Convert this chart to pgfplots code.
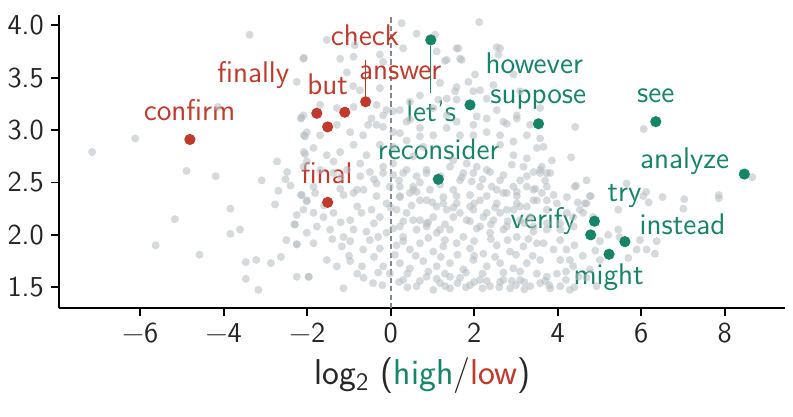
\documentclass[border=0pt]{standalone}
\usepackage{fontspec}
\usepackage{pgfplots}
\pgfplotsset{compat=1.18}
\renewcommand{\familydefault}{\sfdefault}
\definecolor{hred}{RGB}{192,57,43}
\definecolor{hgreen}{RGB}{22,132,103}
\definecolor{ptgray}{RGB}{180,187,191}
\definecolor{dashgray}{RGB}{128,136,146}

% background words: log2 ratio vs y
\pgfplotstableread{
x y
-7.15 2.79
-6.12 2.92
-4.89 2.61
-4.19 2.56
-3.09 2.52
-2.72 2.70
-2.48 2.60
-2.52 2.53
-2.40 2.47
-2.69 2.42
-2.15 2.38
-2.77 2.29
-3.84 2.25
-2.25 2.19
-5.17 2.15
-3.61 2.05
-3.84 2.01
-2.31 2.10
-2.50 1.95
-2.25 1.91
-5.63 1.90
-4.58 1.81
-3.47 1.74
-3.22 1.76
-2.87 1.73
-2.63 1.79
-3.47 1.58
-2.25 1.60
-3.17 1.475
-3.38 3.91
-2.25 3.46
-2.08 3.69
-2.14 3.12
-2.08 2.95
-2.08 2.79
-4.14 3.22
4.42 3.03
3.66 2.84
3.86 2.71
4.32 2.74
6.06 3.01
3.82 2.59
4.44 2.47
4.79 2.37
4.69 2.30
4.48 2.31
5.65 2.49
6.12 2.41
6.51 2.36
6.18 2.31
7.03 2.34
7.01 2.25
7.86 2.38
7.86 2.35
8.66 2.55
5.45 2.24
4.61 2.21
4.37 2.17
5.45 2.05
5.48 1.98
5.21 2.00
5.97 1.95
6.13 1.86
6.33 1.82
6.37 1.94
5.89 1.86
5.69 1.78
5.01 1.94
5.01 1.76
4.77 1.67
4.06 1.76
4.29 1.76
3.98 1.63
3.74 1.60
4.37 1.70
4.69 1.59
4.93 1.51
4.06 1.51
4.29 1.475
3.82 1.49
3.62 2.65
3.70 2.52
3.62 2.40
3.74 2.33
4.06 2.11
3.74 2.05
3.66 1.92
4.06 1.95
4.21 1.86
3.90 1.86
0.26 4.02
2.12 4.03
0.62 3.92
1.06 3.91
1.62 3.78
2.54 3.79
2.58 3.72
1.70 3.67
1.30 3.66
2.02 3.53
1.86 3.46
1.54 3.37
1.18 3.45
2.14 3.38
1.14 3.29
1.58 3.29
2.54 3.19
2.06 3.13
3.02 3.11
2.78 3.06
3.18 2.65
2.90 2.67
3.42 2.60
3.58 2.59
3.74 2.59
2.38 2.60
2.06 2.65
1.82 2.68
1.50 2.71
1.74 2.59
1.94 2.51
2.42 2.46
2.78 2.40
3.02 2.41
3.26 2.46
3.46 2.44
3.74 2.46
3.90 2.38
4.22 2.36
4.41 2.46
4.69 2.52
4.77 2.37
6.05 2.37
4.65 2.30
4.53 2.24
4.85 2.17
-0.10 3.19
0.22 3.19
0.46 3.10
-0.18 3.03
0.22 2.97
0.38 2.90
0.70 2.94
0.06 2.84
0.78 2.84
0.54 2.75
0.06 2.68
0.86 2.62
0.30 2.59
-0.18 2.59
-0.02 2.46
0.54 2.46
0.94 2.43
0.22 2.36
1.26 2.36
0.70 2.33
1.58 2.30
1.10 2.27
1.90 2.27
2.14 2.33
2.30 2.21
2.54 2.30
2.78 2.24
3.02 2.30
3.26 2.27
3.50 2.33
3.74 2.24
3.98 2.30
4.22 2.21
1.50 2.17
1.82 2.14
2.14 2.08
2.46 2.14
2.78 2.08
3.10 2.14
3.42 2.08
3.74 2.11
4.06 2.05
4.38 2.08
0.54 2.14
0.86 2.11
1.18 2.05
0.22 2.08
-0.10 2.02
1.58 3.78
-2.09 3.68
-1.53 3.86
-1.21 3.68
-0.89 3.70
-0.26 3.72
0.30 3.78
1.10 3.75
1.34 3.67
1.66 3.68
1.58 3.41
1.34 3.30
1.98 3.37
2.30 3.30
2.46 3.43
2.62 3.78
2.94 3.53
3.10 3.37
3.58 3.21
-2.09 3.14
-1.69 3.24
-1.29 3.21
-0.89 3.22
-0.34 3.24
0.06 3.18
0.46 3.27
0.70 3.33
1.02 3.21
1.34 3.14
1.58 3.08
1.98 3.05
2.30 3.11
2.70 3.08
3.02 3.14
3.34 3.05
-2.01 2.98
-1.69 2.95
-1.29 3.05
-0.97 2.98
-0.66 2.95
-0.34 3.05
0.06 2.98
0.38 3.08
0.70 3.02
1.02 2.95
1.34 3.02
1.66 2.95
1.98 2.95
2.30 2.98
2.62 2.95
2.94 2.89
3.26 2.95
3.58 2.92
-1.85 2.83
-1.53 2.76
-1.21 2.79
-0.89 2.86
-0.58 2.76
-0.26 2.86
2.62 2.86
2.94 2.76
3.26 2.73
3.50 2.83
-2.01 2.70
-1.37 2.70
-0.73 2.68
-0.54 3.05
-0.46 3.11
-0.18 3.14
-1.05 3.55
-0.86 3.81
-0.18 3.65
-0.26 3.40
-0.74 3.38
-0.90 3.42
-2.15 3.11
-2.05 2.94
-2.05 2.77
-2.13 2.38
-2.01 2.32
-2.29 2.10
-2.25 1.91
-1.96 1.60
-2.09 2.65
-1.69 2.62
-1.37 2.59
-1.05 2.62
-0.73 2.56
-0.50 2.60
-0.18 2.65
0.06 2.57
0.38 2.62
0.62 2.56
0.86 2.59
1.42 2.65
1.66 2.52
1.98 2.59
2.30 2.62
2.62 2.52
2.94 2.46
3.26 2.56
3.58 2.62
-1.85 2.46
-1.21 2.44
-0.81 2.43
-0.34 2.49
0.22 2.46
0.54 2.43
1.18 2.48
1.50 2.43
2.14 2.46
2.54 2.43
3.42 2.43
-2.01 2.33
-1.81 2.40
-1.13 2.38
-0.89 2.40
-0.65 2.43
-0.34 2.37
-0.10 2.30
0.22 2.37
0.46 2.40
0.62 2.41
0.86 2.33
1.26 2.30
1.58 2.37
1.90 2.38
2.30 2.37
2.70 2.40
3.02 2.37
3.42 2.33
-2.09 2.24
-1.85 2.21
-1.61 2.17
-1.37 2.21
-0.97 2.14
-0.70 2.21
-0.46 2.24
-0.26 2.17
0.14 2.24
0.38 2.21
0.70 2.14
1.02 2.17
1.34 2.24
1.66 2.21
1.98 2.24
2.22 2.17
2.62 2.21
2.94 2.24
3.34 2.17
-2.01 2.02
-1.77 2.08
-1.45 2.05
-1.13 1.98
-0.89 2.05
-0.58 2.03
-0.30 1.98
0.06 2.06
0.30 1.98
0.62 2.05
0.86 2.08
1.10 2.02
1.42 2.05
1.74 1.98
2.06 2.06
2.38 2.02
2.70 2.05
3.02 1.98
3.42 2.03
-1.85 1.92
-1.17 1.89
-0.97 1.94
-0.66 1.86
-0.26 1.87
0.14 1.90
0.46 1.86
0.70 1.92
1.02 1.84
1.26 1.89
1.58 1.92
1.90 1.87
2.22 1.82
2.54 1.90
2.86 1.84
3.18 1.89
3.50 1.92
-1.53 1.76
-1.29 1.70
-0.97 1.75
-0.69 1.70
-0.18 1.70
0.22 1.73
0.46 1.68
0.78 1.75
1.10 1.70
1.42 1.73
1.74 1.67
1.98 1.76
2.30 1.70
2.62 1.73
2.94 1.68
3.26 1.73
3.58 1.76
-1.97 1.60
-1.13 1.49
-0.65 1.59
-0.42 1.54
-0.02 1.63
0.30 1.57
0.62 1.51
0.86 1.60
1.18 1.54
1.42 1.49
1.66 1.59
1.90 1.52
2.14 1.57
2.38 1.51
2.62 1.55
2.86 1.49
3.10 1.57
3.34 1.51
3.58 1.54
1.42 1.60
1.02 1.475
1.80 1.50
2.20 1.49
2.60 1.50
3.00 1.52
3.20 1.48
3.80 1.52
4.40 1.50
0.40 1.50
-0.20 1.52
1.30 1.51
2.00 1.55
2.90 1.56
-1.20 2.55
-0.40 2.53
0.20 2.52
0.70 2.50
1.20 2.56
1.70 2.55
2.20 2.53
2.70 2.57
3.10 2.52
-1.60 2.28
-0.80 2.27
0.00 2.26
0.50 2.28
1.00 2.31
1.50 2.26
2.00 2.30
2.50 2.26
3.10 2.27
-1.20 2.12
-0.40 2.11
0.30 2.13
0.90 2.12
1.30 2.10
1.90 2.13
2.40 2.10
2.80 2.13
3.20 2.11
-1.40 1.96
-0.50 1.95
0.30 1.94
0.90 1.97
1.30 1.95
2.00 1.94
2.40 1.96
2.80 1.95
3.30 1.96
-1.00 1.80
-0.40 1.79
0.10 1.81
0.60 1.80
1.20 1.79
1.60 1.81
2.00 1.80
2.50 1.79
3.00 1.81
3.40 1.80
-0.80 1.63
-0.30 1.64
0.40 1.63
0.90 1.65
1.30 1.63
1.80 1.64
2.20 1.63
2.70 1.64
3.10 1.65
3.50 1.63
0.20 1.55
0.70 1.56
1.10 1.58
1.60 1.54
2.30 1.56
2.70 1.57
3.20 1.55
3.70 1.56
4.20 1.57
4.50 1.60
4.20 1.65
4.60 1.80
4.90 1.85
4.40 1.90
}\bgwords

\pgfplotstableread{
x y
-4.81 2.91
-1.77 3.16
-1.10 3.17
-1.51 3.03
-0.60 3.27
-1.51 2.31
}\lowwords

\pgfplotstableread{
x y
0.96 3.86
1.90 3.24
3.54 3.06
6.35 3.08
8.47 2.58
1.14 2.53
4.88 2.13
4.79 2.00
5.23 1.815
5.61 1.935
}\highwords

\begin{document}
\begin{tikzpicture}
\begin{axis}[
    width=363bp, height=146.6bp,
    scale only axis,
    xmin=-7.95, xmax=9.44,
    ymin=1.30, ymax=4.098,
    axis lines=left,
    axis line style={-, line width=1bp, black},
    tick align=outside,
    major tick length=4bp,
    tick style={line width=0.9bp, black},
    xtick={-6,-4,-2,0,2,4,6,8},
    xticklabels={−6,−4,−2,0,2,4,6,8},
    ytick={1.5,2.0,2.5,3.0,3.5,4.0},
    yticklabels={1.5,2.0,2.5,3.0,3.5,4.0},
    ticklabel style={font=\fontsize{14.5}{17}\selectfont, text=black!85},
    clip=false,
]
\addplot[only marks, mark=*, mark size=2bp, color=ptgray,
    mark options={fill=ptgray, fill opacity=0.55, draw opacity=0}] table {\bgwords};

\draw[dashgray, line width=0.9bp, dash pattern=on 2.6bp off 1.6bp]
    (axis cs:0,1.30) -- (axis cs:0,4.098);

\draw[hred, line width=0.4bp] (axis cs:-0.60,3.32) -- (axis cs:-0.60,3.67);
\draw[hgreen, line width=0.4bp] (axis cs:0.96,3.80) -- (axis cs:0.96,3.35);

\addplot[only marks, mark=*, mark size=2.8bp, color=hred,
    mark options={fill=hred, draw opacity=0}] table {\lowwords};
\addplot[only marks, mark=*, mark size=2.8bp, color=hgreen,
    mark options={fill=hgreen, draw opacity=0}] table {\highwords};

\begin{scope}[every node/.style={anchor=base, inner sep=0pt,
    font=\fontsize{15}{18}\selectfont}]
\node[text=hred] at (axis cs:-4.82,3.087) {confirm};
\node[text=hred] at (axis cs:-3.29,3.452) {finally};
\node[text=hred] at (axis cs:-1.51,3.335) {but};
\node[text=hred] at (axis cs:-0.615,3.805) {check};
\node[text=hred] at (axis cs:0.23,3.478) {answer};
\node[text=hred] at (axis cs:-1.53,2.492) {final};
\node[text=hgreen] at (axis cs:0.97,3.08) {let’s};
\node[text=hgreen] at (axis cs:1.15,2.715) {reconsider};
\node[text=hgreen] at (axis cs:3.44,3.542) {however};
\node[text=hgreen] at (axis cs:3.535,3.249) {suppose};
\node[text=hgreen] at (axis cs:6.35,3.26) {see};
\node[text=hgreen] at (axis cs:7.04,2.636) {analyze};
\node[text=hgreen] at (axis cs:5.60,2.317) {try};
\node[text=hgreen] at (axis cs:3.66,2.063) {verify};
\node[text=hgreen] at (axis cs:6.99,2.00) {instead};
\node[text=hgreen] at (axis cs:5.22,1.522) {might};
\end{scope}

\node[anchor=base, inner sep=0pt, text=black!85, font=\fontsize{18}{22}\selectfont]
    at (axis cs:0.76,0.568)
    {log\textsubscript{2}\ (\textcolor{hgreen}{high}/\textcolor{hred}{low})};

\coordinate (bbl) at (axis cs:-9.358,0.262);
\coordinate (btr) at (axis cs:9.636,4.241);
\end{axis}
\pgfresetboundingbox
\useasboundingbox (bbl) rectangle (btr);
\end{tikzpicture}
\end{document}
